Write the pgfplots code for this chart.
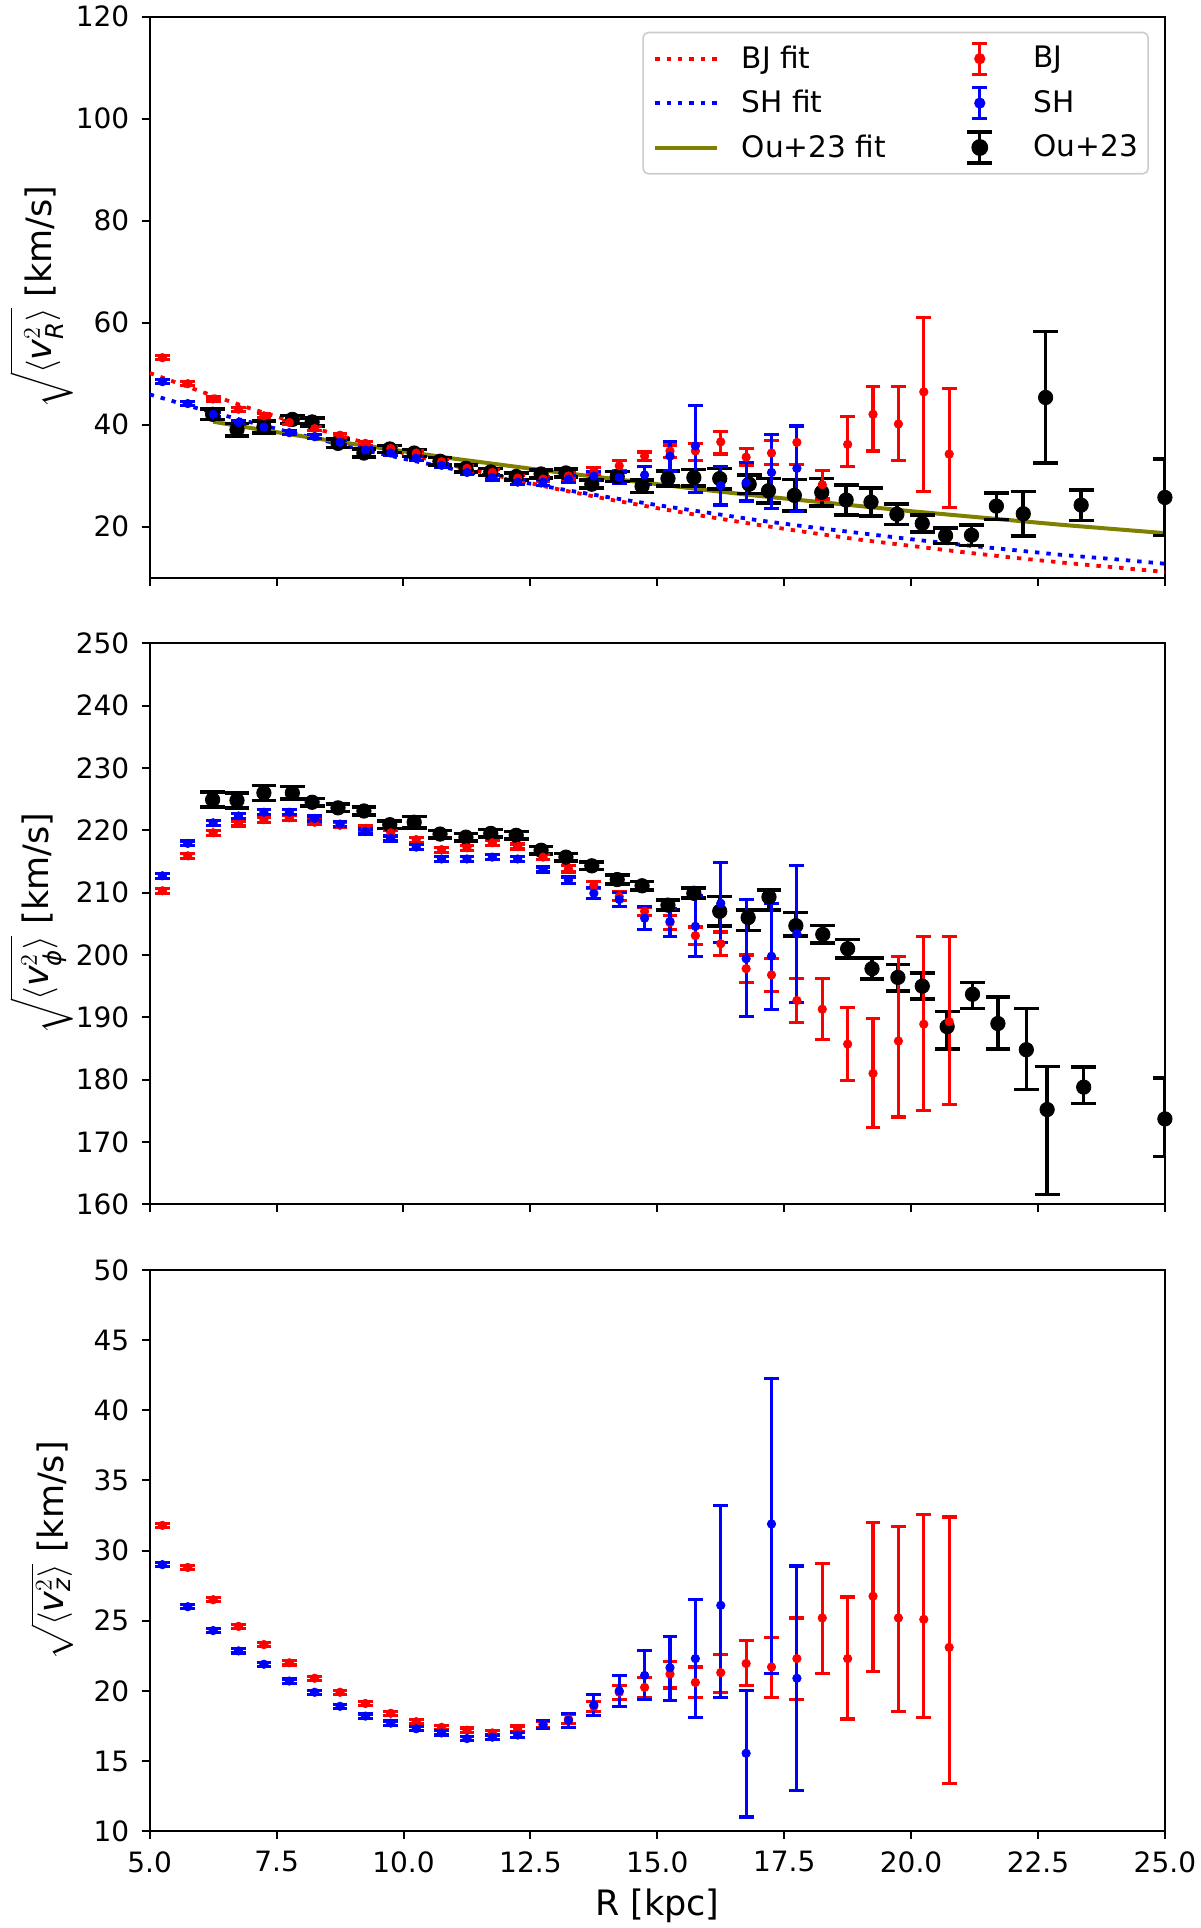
\documentclass[border=0pt]{standalone}
\usepackage{amsmath}
\usepackage{fontspec}
\setmainfont{DejaVu Sans}
\usepackage{pgfplots}
\usepackage{pgfplotstable}
\pgfplotsset{compat=1.18}

\definecolor{olivefit}{HTML}{808000}

% ---------- top panel: sqrt<v_R^2> ----------
\pgfplotstableread{
R v ep em
5.25 53.1 0.4 0.4
5.75 48.0 0.4 0.4
6.25 45.0 0.4 0.4
6.75 43.0 0.4 0.4
7.25 41.7 0.4 0.4
7.75 40.4 0.4 0.4
8.25 39.2 0.4 0.4
8.75 37.9 0.4 0.4
9.25 36.3 0.4 0.4
9.75 35.3 0.4 0.4
10.25 34.4 0.4 0.4
10.75 32.7 0.4 0.4
11.25 31.4 0.5 0.5
11.75 30.6 0.5 0.5
12.25 29.5 0.5 0.5
12.75 29.3 0.5 0.5
13.25 29.9 0.6 0.6
13.75 30.9 0.7 0.7
14.25 31.9 1.0 1.0
14.75 33.8 0.8 0.9
15.25 34.8 1.2 1.3
15.75 34.8 1.5 1.8
16.25 36.6 2.1 2.4
16.75 33.6 1.7 1.7
17.25 34.4 2.5 2.3
17.75 36.5 3.2 4.3
18.25 28.2 2.8 2.8
18.75 36.1 5.4 4.4
19.25 42.0 5.5 7.2
19.75 40.1 7.3 7.1
20.25 46.4 14.6 19.5
20.75 34.2 12.9 10.4
}\bjA

\pgfplotstableread{
R v ep em
5.25 48.4 0.4 0.4
5.75 44.1 0.4 0.4
6.25 42.0 0.4 0.4
6.75 40.4 0.4 0.4
7.25 39.5 0.4 0.4
7.75 38.4 0.4 0.4
8.25 37.6 0.4 0.4
8.75 36.5 0.4 0.4
9.25 35.0 0.4 0.4
9.75 34.4 0.4 0.4
10.25 33.4 0.4 0.4
10.75 32.0 0.4 0.4
11.25 30.6 0.4 0.4
11.75 29.6 0.5 0.5
12.25 28.7 0.5 0.5
12.75 28.7 0.6 0.6
13.25 29.3 0.7 0.7
13.75 29.9 0.9 0.9
14.25 29.6 1.1 1.1
14.75 30.1 1.6 1.8
15.25 33.8 2.8 2.9
15.75 35.8 8.0 9.1
16.25 28.0 3.8 3.8
16.75 28.6 3.9 3.6
17.25 30.6 7.4 7.1
17.75 31.4 8.3 8.5
}\shA

\pgfplotstableread{
R v ep em
6.24 42.0 1.0 1.0
6.72 39.0 1.2 1.2
7.25 39.5 1.2 1.2
7.81 41.0 0.8 0.8
8.20 40.5 0.8 0.8
8.71 36.3 0.8 0.8
9.22 34.4 0.8 0.8
9.73 35.2 0.7 0.7
10.21 34.4 0.7 0.7
10.72 32.8 0.7 0.7
11.23 31.4 0.7 0.7
11.72 30.7 0.7 0.7
12.22 29.8 0.7 0.7
12.71 30.3 0.8 0.8
13.20 30.5 0.8 0.8
13.71 28.3 0.8 0.8
14.21 29.8 1.0 1.0
14.70 27.9 1.2 1.2
15.21 29.4 1.5 1.5
15.72 29.6 1.6 1.6
16.23 29.4 2.0 2.0
16.81 28.3 1.8 1.8
17.19 27.0 2.4 2.4
17.70 26.1 3.1 3.1
18.24 26.7 2.7 2.7
18.72 25.2 2.9 2.9
19.21 24.8 2.7 2.7
19.72 22.4 2.0 2.0
20.22 20.6 1.7 1.7
20.68 18.2 1.5 1.5
21.19 18.3 2.0 2.0
21.68 24.0 2.6 2.6
22.21 22.5 4.4 4.4
22.65 45.3 12.9 12.9
23.35 24.2 3.0 3.0
25.00 25.7 7.5 7.5
}\ouA

% ---------- middle panel: sqrt<v_phi^2> ----------
\pgfplotstableread{
R v ep em
5.25 210.3 0.4 0.4
5.75 215.9 0.4 0.4
6.25 219.6 0.4 0.4
6.75 221.1 0.4 0.4
7.25 221.7 0.4 0.4
7.75 222.0 0.4 0.4
8.25 221.3 0.4 0.4
8.75 220.8 0.4 0.4
9.25 220.3 0.4 0.4
9.75 219.6 0.4 0.4
10.25 218.5 0.4 0.4
10.75 216.9 0.4 0.4
11.25 217.2 0.4 0.4
11.75 218.0 0.4 0.4
12.25 217.4 0.4 0.4
12.75 215.7 0.4 0.4
13.25 213.8 0.5 0.5
13.75 211.2 0.6 0.6
14.25 209.4 0.7 0.7
14.75 207.0 0.7 0.7
15.25 205.2 1.1 1.1
15.75 203.1 1.4 1.4
16.25 201.8 1.9 1.9
16.75 197.8 2.2 2.2
17.25 196.8 2.6 2.6
17.75 192.7 3.5 3.5
18.25 191.3 4.9 4.9
18.75 185.7 5.9 5.8
19.25 181.0 8.8 8.7
19.75 186.2 13.5 12.2
20.25 188.9 14.1 13.8
20.75 189.3 13.6 13.3
}\bjB

\pgfplotstableread{
R v ep em
5.25 212.7 0.4 0.4
5.75 217.9 0.4 0.4
6.25 221.2 0.4 0.4
6.75 222.3 0.4 0.4
7.25 222.9 0.4 0.4
7.75 222.9 0.4 0.4
8.25 221.9 0.4 0.4
8.75 221.0 0.4 0.4
9.25 219.8 0.4 0.4
9.75 218.7 0.4 0.4
10.25 217.3 0.4 0.4
10.75 215.4 0.4 0.4
11.25 215.4 0.4 0.4
11.75 215.7 0.4 0.4
12.25 215.4 0.4 0.4
12.75 213.7 0.4 0.4
13.25 212.0 0.5 0.5
13.75 209.9 0.9 0.9
14.25 208.9 1.1 1.1
14.75 205.9 1.9 1.8
15.25 205.4 2.1 2.4
15.75 204.6 4.9 4.8
16.25 208.3 6.5 6.3
16.75 199.4 9.5 9.3
17.25 199.8 8.5 8.6
17.75 203.4 11.0 11.0
}\shB

\pgfplotstableread{
R v ep em
6.24 224.9 1.2 1.2
6.72 224.8 1.2 1.2
7.25 226.0 1.2 1.2
7.81 226.0 1.0 1.0
8.20 224.5 0.6 0.6
8.71 223.6 0.6 0.6
9.22 223.1 0.6 0.6
9.73 220.9 0.6 0.6
10.21 221.3 0.9 0.9
10.72 219.4 0.6 0.6
11.23 218.9 0.6 0.6
11.72 219.5 0.6 0.6
12.22 219.2 0.6 0.6
12.71 216.8 0.6 0.6
13.20 215.7 0.6 0.6
13.71 214.3 0.6 0.6
14.21 212.1 0.7 0.7
14.70 211.1 0.7 0.7
15.21 208.0 0.8 0.8
15.72 209.9 0.8 0.8
16.23 207.0 2.4 2.4
16.79 206.0 1.2 2.1
17.20 209.3 1.1 2.1
17.73 204.7 2.1 1.7
18.26 203.3 1.4 1.4
18.75 201.0 1.5 1.5
19.23 197.8 1.7 1.7
19.74 196.4 2.1 2.2
20.22 195.0 2.1 2.1
20.71 188.5 2.4 3.6
21.21 193.7 1.9 2.3
21.71 189.0 4.3 4.1
22.27 184.8 6.6 6.4
22.68 175.2 6.9 13.6
23.40 178.8 3.2 2.6
25.00 173.7 6.6 6.0
}\ouB

% ---------- bottom panel: sqrt<v_z^2> ----------
\pgfplotstableread{
R v ep em
5.25 31.8 0.15 0.15
5.75 28.8 0.15 0.15
6.25 26.5 0.15 0.15
6.75 24.6 0.15 0.15
7.25 23.3 0.15 0.15
7.75 22.0 0.15 0.15
8.25 20.9 0.15 0.15
8.75 19.9 0.15 0.15
9.25 19.1 0.15 0.15
9.75 18.4 0.15 0.15
10.25 17.8 0.15 0.15
10.75 17.4 0.15 0.15
11.25 17.2 0.15 0.15
11.75 17.0 0.15 0.15
12.25 17.3 0.2 0.2
12.75 17.6 0.25 0.25
13.25 18.0 0.3 0.3
13.75 18.9 0.35 0.35
14.25 19.9 0.5 0.5
14.75 20.25 0.7 0.7
15.25 21.2 0.9 1.0
15.75 20.6 1.1 1.1
16.25 21.3 1.3 1.4
16.75 21.95 1.65 1.55
17.25 21.7 2.1 2.2
17.75 22.3 2.9 2.9
18.25 25.2 3.9 3.95
18.75 22.3 4.4 4.3
19.25 26.75 5.25 5.35
19.75 25.2 6.5 6.65
20.25 25.1 7.5 7.0
20.75 23.1 9.3 9.7
}\bjC

\pgfplotstableread{
R v ep em
5.25 29.0 0.15 0.15
5.75 26.0 0.15 0.15
6.25 24.3 0.15 0.15
6.75 22.85 0.15 0.15
7.25 21.9 0.15 0.15
7.75 20.7 0.15 0.15
8.25 19.9 0.15 0.15
8.75 18.9 0.15 0.15
9.25 18.2 0.15 0.15
9.75 17.7 0.15 0.15
10.25 17.3 0.15 0.15
10.75 17.0 0.15 0.15
11.25 16.6 0.15 0.15
11.75 16.7 0.15 0.15
12.25 16.85 0.2 0.2
12.75 17.6 0.3 0.3
13.25 17.9 0.5 0.5
13.75 19.0 0.75 0.75
14.25 20.0 1.1 1.1
14.75 21.1 1.8 1.7
15.25 21.65 2.25 2.35
15.75 22.3 4.2 4.2
16.25 26.1 7.1 6.6
16.75 15.55 4.45 4.55
17.25 31.9 10.4 10.65
17.75 20.9 8.0 8.0
}\shC

\pgfplotsset{
  panel/.style={
    scale only axis, width=507.6pt, height=280.5pt,
    xmin=5, xmax=25, xtick={5,7.5,...,25},
    tick align=outside, xtick pos=bottom, ytick pos=left,
    major tick length=4pt,
    every tick/.style={black, line width=1pt},
    axis line style={line width=1pt},
    /pgf/number format/assume math mode=true,
    ticklabel style={font=\fontsize{14}{16}\selectfont},
    yticklabel style={anchor=east, inner sep=0pt, xshift=-6pt},
    ylabel style={font=\fontsize{17.5}{20}\selectfont, inner sep=0pt,
      at={([xshift=-38pt]axis description cs:0,0.5)}, anchor=south},
    xticklabel style={anchor=north, inner sep=0pt, yshift=-6pt,
      /pgf/number format/.cd, fixed, fixed zerofill, precision=1},
  },
  bjdata/.style={only marks, red, mark=*, mark size=2.1pt,
    mark options={line width=0.4pt},
    error bars/y dir=both, error bars/y explicit,
    error bars/error bar style={line width=1.6pt},
    error bars/error mark options={rotate=90, mark size=3.7pt, line width=1.6pt}},
  shdata/.style={bjdata, blue},
  oudata/.style={only marks, black, mark=*, mark size=3.6pt,
    mark options={line width=0.4pt},
    error bars/y dir=both, error bars/y explicit,
    error bars/error bar style={line width=1.8pt},
    error bars/error mark options={rotate=90, mark size=6.2pt, line width=1.8pt}},
  dotfit/.style={line width=1.9pt, dash pattern=on 2.2pt off 3.5pt},
}

\newcommand{\ebimg}[3]{% colour, cap half width, dot radius
  \path (-31pt,0pt) (42pt,0pt);
  \draw[#1, line width=1.7pt] (15.5pt,-7.75pt) -- (15.5pt,7.75pt);
  \draw[#1, line width=1.7pt] (15.5pt-#2,-7.75pt) -- (15.5pt+#2,-7.75pt);
  \draw[#1, line width=1.7pt] (15.5pt-#2,7.75pt) -- (15.5pt+#2,7.75pt);
  \fill[#1] (15.5pt,0pt) circle (#3);
}

\begin{document}
\begin{tikzpicture}
\path[use as bounding box] (-74.85pt,8.25pt) rectangle (525.15pt,-955.75pt);

\begin{axis}[panel, at={(0,0)}, anchor=north west,
  ymin=10, ymax=120, ytick={20,40,...,120}, xticklabels={},
  ylabel={$\sqrt{\langle \textit{v}^{2}_{\textit{R}}\rangle}$ [km/s]},
  legend columns=2, legend cell align=left,
  legend style={at={(1,1)}, anchor=north east, xshift=-8pt, yshift=-7.6pt,
    draw=black!20, line width=0.8pt, rounded corners=2.5pt,
    inner xsep=5pt, inner ysep=4.5pt, column sep=0pt, row sep=5pt,
    font=\fontsize{14.8}{17}\selectfont, nodes={inner sep=0pt}},
]
\addplot[red, dotfit, forget plot] coordinates {
(5,50.1) (6,46.5) (7,43.1) (8,40.0) (9,37.1) (10,34.4) (11,31.9) (12,29.6)
(13,27.4) (14,25.4) (15,23.6) (16,21.9) (17,20.3) (18,18.8) (19,17.4)
(20,16.2) (21,15.0) (22,13.9) (23,12.9) (24,12.0) (25,11.1)};
\addplot[blue, dotfit, forget plot] coordinates {
(5,45.9) (6,43.0) (7,40.4) (8,37.9) (9,35.5) (10,33.3) (11,31.2) (12,29.3)
(13,27.5) (14,25.8) (15,24.2) (16,22.7) (17,21.2) (18,19.9) (19,18.7)
(20,17.5) (21,16.4) (22,15.4) (23,14.4) (24,13.6) (25,12.7)};
\addplot[olivefit, line width=2pt, forget plot] coordinates {
(6.25,40.55) (7,39.3) (8,37.7) (9,36.2) (10,34.75) (11,33.3) (12,32.0)
(13,30.7) (14,29.5) (15,28.3) (16,27.1) (17,26.0) (18,25.0) (19,24.0)
(20,23.0) (21,22.1) (22,21.2) (23,20.3) (24,19.5) (25,18.7)};
\addplot[oudata, forget plot] table[x=R, y=v, y error plus=ep, y error minus=em] {\ouA};
\addplot[bjdata, forget plot] table[x=R, y=v, y error plus=ep, y error minus=em] {\bjA};
\addplot[shdata, forget plot] table[x=R, y=v, y error plus=ep, y error minus=em] {\shA};

\addlegendimage{red, dotfit, legend image code/.code={\draw (0pt,0pt) -- (31pt,0pt); \path (42.3pt,0pt);}}
\addlegendentry{BJ fit}
\addlegendimage{legend image code/.code={\ebimg{red}{3.7pt}{2.4pt}}}
\addlegendentry{BJ}
\addlegendimage{blue, dotfit, legend image code/.code={\draw (0pt,0pt) -- (31pt,0pt); \path (42.3pt,0pt);}}
\addlegendentry{SH fit}
\addlegendimage{legend image code/.code={\ebimg{blue}{3.7pt}{2.4pt}}}
\addlegendentry{SH}
\addlegendimage{olivefit, line width=2pt, legend image code/.code={\draw (0pt,0pt) -- (31pt,0pt); \path (42.3pt,0pt);}}
\addlegendentry{Ou+23 fit}
\addlegendimage{legend image code/.code={\ebimg{black}{6.2pt}{3.8pt}}}
\addlegendentry{Ou+23}
\end{axis}

\begin{axis}[panel, at={(0,-313.4pt)}, anchor=north west,
  ymin=160, ymax=250, ytick={160,170,...,250}, xticklabels={},
  ylabel={$\sqrt{\langle \textit{v}^{2}_{\textit{ϕ}}\rangle}$ [km/s]},
]
\addplot[oudata] table[x=R, y=v, y error plus=ep, y error minus=em] {\ouB};
\addplot[bjdata] table[x=R, y=v, y error plus=ep, y error minus=em] {\bjB};
\addplot[shdata] table[x=R, y=v, y error plus=ep, y error minus=em] {\shB};
\end{axis}

\begin{axis}[panel, at={(0,-626.8pt)}, anchor=north west,
  ymin=10, ymax=50, ytick={10,15,...,50},
  ylabel={$\sqrt{\langle \textit{v}^{2}_{\textit{z}}\rangle}$ [km/s]},
  xlabel={R [kpc]},
  xlabel style={font=\fontsize{17.5}{20}\selectfont,
    at={([yshift=-42pt]axis description cs:0.5,0)}, anchor=base},
]
\addplot[bjdata] table[x=R, y=v, y error plus=ep, y error minus=em] {\bjC};
\addplot[shdata] table[x=R, y=v, y error plus=ep, y error minus=em] {\shC};
\end{axis}
\end{tikzpicture}
\end{document}
